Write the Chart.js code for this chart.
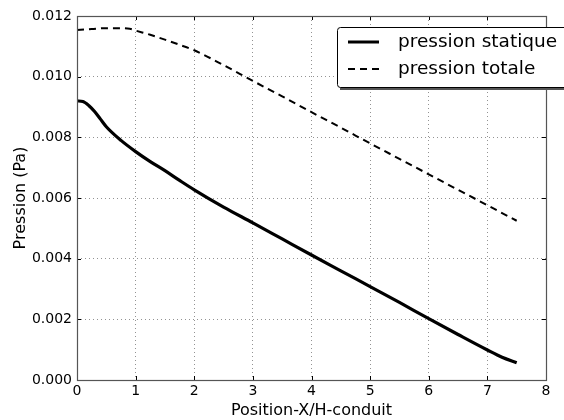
<!DOCTYPE html>
<html><head><meta charset="utf-8">
<script src="https://cdn.jsdelivr.net/npm/chart.js@4/dist/chart.umd.min.js"></script>
<style>html,body{margin:0;padding:0;background:#fff}#wrap{width:564px;height:420px}</style>
</head><body><div id="wrap"><canvas id="c" width="564" height="420"></canvas></div>
<script>
const xStatic = [0,0.1,0.2,0.3,0.4,0.5,0.75,1,1.25,1.5,1.75,2,2.5,3,3.5,4,4.5,5,5.5,6,6.5,7,7.25,7.5];
const yStatic = [0.0092,0.00918,0.00905,0.00885,0.0086,0.00835,0.0079,0.00753,0.0072,0.0069,0.00658,0.00627,0.0057,0.00518,0.00465,0.00412,0.0036,0.00308,0.00256,0.00202,0.0015,0.00099,0.00075,0.00057];
const xTotal = [0,0.25,0.5,0.75,0.9,1,1.25,1.5,1.75,2,2.5,3,3.5,4,4.5,5,5.5,6,6.5,7,7.5];
const yTotal = [0.01154,0.01157,0.0116,0.0116,0.01158,0.01152,0.01138,0.01122,0.01105,0.01087,0.01038,0.00986,0.00935,0.00883,0.00832,0.0078,0.00729,0.00678,0.00627,0.00576,0.00525];
const seriesNames = ["pression statique","pression totale"];
const xTicks = [0,1,2,3,4,5,6,7,8];
const yTicks = [0,0.002,0.004,0.006,0.008,0.010,0.012];
const xTitle = "Position-X/H-conduit";
const yTitle = "Pression (Pa)";

const FONT = "'DejaVu Sans', sans-serif";
const toPts = (xs, ys) => xs.map((x,i)=>({x:x,y:ys[i]}));

const frame = {
  id:'frame',
  afterDatasetsDraw(chart){
    const {ctx, chartArea:a, scales:{x,y}} = chart;
    ctx.save();
    ctx.strokeStyle='#000'; ctx.lineWidth=1;
    ctx.beginPath();
    xTicks.forEach(v=>{const p=Math.round(x.getPixelForValue(v))+0.5;
      ctx.moveTo(p,a.bottom);ctx.lineTo(p,a.bottom-4);ctx.moveTo(p,a.top);ctx.lineTo(p,a.top+4);});
    yTicks.forEach(v=>{const p=Math.round(y.getPixelForValue(v))+0.5;
      ctx.moveTo(a.left,p);ctx.lineTo(a.left+4,p);ctx.moveTo(a.right,p);ctx.lineTo(a.right-4,p);});
    ctx.stroke();
    ctx.strokeStyle='#555'; ctx.lineWidth=1.2;
    ctx.strokeRect(a.left+0.5,a.top+0.5,a.right-a.left,a.bottom-a.top);
    // legend
    const lx=337, ly=27, lw=240, lh=60;
    ctx.fillStyle='#555';
    ctx.fillRect(lx+3,ly+3,lw,lh);
    ctx.fillStyle='#fff'; ctx.strokeStyle='#000'; ctx.lineWidth=1;
    ctx.beginPath();
    if (ctx.roundRect) ctx.roundRect(lx+0.5,ly+0.5,lw,lh,3); else ctx.rect(lx+0.5,ly+0.5,lw,lh);
    ctx.fill(); ctx.stroke();
    ctx.strokeStyle='#000';
    ctx.lineWidth=3; ctx.setLineDash([]);
    ctx.beginPath(); ctx.moveTo(348,42); ctx.lineTo(379,42); ctx.stroke();
    ctx.lineWidth=2; ctx.setLineDash([7,5]);
    ctx.beginPath(); ctx.moveTo(348,69); ctx.lineTo(384,69); ctx.stroke();
    ctx.setLineDash([]);
    ctx.fillStyle='#000'; ctx.font='18.5px '+FONT; ctx.textBaseline='middle'; ctx.textAlign='left';
    ctx.fillText(seriesNames[0],398,42);
    ctx.fillText(seriesNames[1],398,69);
    ctx.restore();
  }
};

new Chart(document.getElementById('c'), {
  type:'line',
  data:{datasets:[
    {label:seriesNames[0], data:toPts(xStatic,yStatic), borderColor:'#000', borderWidth:3.2, pointRadius:0, cubicInterpolationMode:'monotone', fill:false},
    {label:seriesNames[1], data:toPts(xTotal,yTotal), borderColor:'#000', borderWidth:2, borderDash:[7,5], pointRadius:0, cubicInterpolationMode:'monotone', fill:false}
  ]},
  options:{
    responsive:false, animation:false, devicePixelRatio:1,
    layout:{padding:{left:11,right:18,top:16,bottom:0}},
    plugins:{legend:{display:false}, tooltip:{enabled:false}},
    scales:{
      x:{type:'linear', min:0, max:8,
        afterBuildTicks(s){s.ticks=xTicks.map(v=>({value:v}));},
        afterFit(s){s.height=40;},
        ticks:{color:'#000', font:{family:FONT,size:14}, padding:3, maxRotation:0},
        grid:{color:'#777', lineWidth:0.8, drawTicks:false, tickLength:0},
        border:{display:false, dash:[1,3]},
        title:{display:true, text:xTitle, color:'#000', font:{family:FONT,size:16}, padding:{top:2,bottom:0}}
      },
      y:{type:'linear', min:0, max:0.012,
        afterBuildTicks(s){s.ticks=yTicks.map(v=>({value:v}));},
        afterFit(s){s.width=66;},
        ticks:{color:'#000', font:{family:FONT,size:14}, padding:5, callback:v=>v.toFixed(3)},
        grid:{color:'#777', lineWidth:0.8, drawTicks:false, tickLength:0},
        border:{display:false, dash:[1,3]},
        title:{display:true, text:yTitle, color:'#000', font:{family:FONT,size:16}, padding:{top:0,bottom:4}}
      }
    }
  },
  plugins:[frame]
});
</script></body></html>
